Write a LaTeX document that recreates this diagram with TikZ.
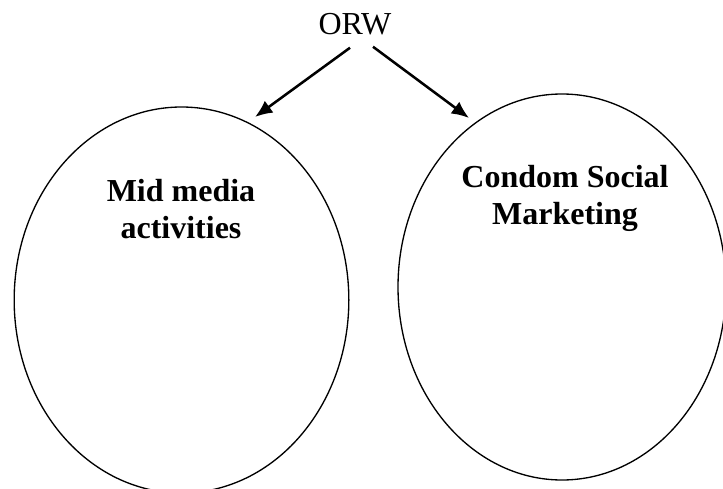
\documentclass[tikz,border=0pt]{standalone}
\usepackage{fontspec}
\setmainfont{Liberation Serif}
\usetikzlibrary{shapes.geometric,arrows.meta}
\begin{document}
\begin{tikzpicture}[x=0.75pt,y=-0.75pt,
  bubble/.style={ellipse,draw,line width=1pt,inner sep=0pt,minimum height=289.5pt},
  label/.style={inner sep=0pt,font=\fontsize{24}{27.75}\selectfont\bfseries,align=center},
  title/.style={inner sep=0pt,font=\fontsize{24}{27.75}\selectfont},
  arr/.style={line width=1.9pt,-{Latex[length=13pt,width=11pt]}}]
\useasboundingbox (0,0) rectangle (723,488);
\clip (0,0) rectangle (723,488);
\node[title,anchor=base] (orw) at (355,35) {ORW};
\node[bubble,minimum width=251pt] (left) at (181.5,300) {};
\node[bubble,minimum width=246pt] (right) at (562,287) {};
\node[label,anchor=north] (lefttext) at (181,179) {Mid media\\activities};
\node[label,anchor=north] (righttext) at (565,165) {Condom Social\\Marketing};
\coordinate (lt) at (255,117);
\coordinate (rt) at (469,118);
\draw[arr] ([shift={(-5,12)}]orw.south) -- (lt);
\draw[arr] ([shift={(18,11)}]orw.south) -- (rt);
\end{tikzpicture}
\end{document}
